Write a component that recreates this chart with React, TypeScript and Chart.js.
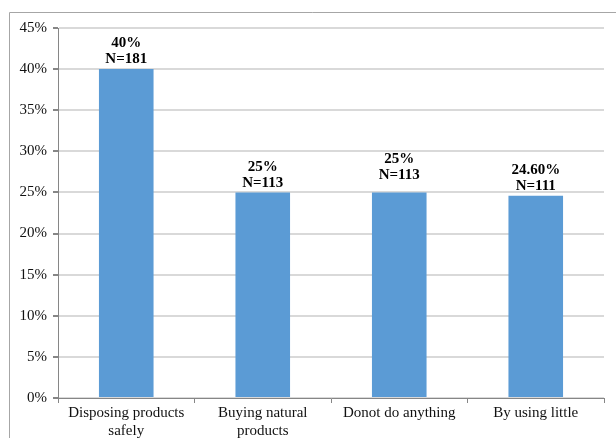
import React, { useEffect, useRef } from "react";
import { Chart, registerables } from "chart.js";

Chart.register(...registerables);

const categories: string[][] = [
  ["Disposing products", "safely"],
  ["Buying natural", "products"],
  ["Donot do anything"],
  ["By using little"],
];
const values: number[] = [40, 25, 25, 24.6];
const percentLabels: string[] = ["40%", "25%", "25%", "24.60%"];
const countLabels: string[] = ["N=181", "N=113", "N=113", "N=111"];
const yTicks: number[] = [0, 5, 10, 15, 20, 25, 30, 35, 40, 45];

const SERIF = "'Liberation Serif', 'Times New Roman', serif";

const labelPlugin = {
  id: "barLabels",
  afterDatasetsDraw(chart: any) {
    const ctx = chart.ctx;
    const meta = chart.getDatasetMeta(0);
    const lift = [0, 0, 8, 0];
    ctx.save();
    ctx.font = `bold 15px ${SERIF}`;
    ctx.fillStyle = "#000";
    ctx.textAlign = "center";
    ctx.textBaseline = "bottom";
    meta.data.forEach((bar: any, i: number) => {
      const x = bar.x;
      const y = bar.y - 2 - lift[i];
      ctx.fillText(countLabels[i], x, y);
      ctx.fillText(percentLabels[i], x, y - 16);
    });
    ctx.restore();
  },
};

const framePlugin = {
  id: "frame",
  beforeDraw(chart: any) {
    const ctx = chart.ctx;
    ctx.save();
    ctx.fillStyle = "#fff";
    ctx.fillRect(0, 0, chart.width, chart.height);
    ctx.strokeStyle = "#a6a6a6";
    ctx.lineWidth = 1;
    ctx.beginPath();
    ctx.moveTo(9.5, chart.height);
    ctx.lineTo(9.5, 12.5);
    ctx.lineTo(chart.width, 12.5);
    ctx.stroke();
    ctx.restore();
  },
};

export default function App() {
  const ref = useRef<HTMLCanvasElement | null>(null);
  useEffect(() => {
    if (!ref.current) return;
    const chart = new Chart(ref.current, {
      type: "bar",
      data: {
        labels: categories,
        datasets: [
          {
            data: values,
            backgroundColor: "#5B9BD5",
            borderWidth: 0,
            barPercentage: 0.4,
            categoryPercentage: 1,
          },
        ],
      },
      options: {
        animation: false,
        responsive: false,
        maintainAspectRatio: false,
        layout: { padding: { left: 0, top: 28, right: 12, bottom: 0 } },
        plugins: {
          legend: { display: false },
          tooltip: { enabled: false },
        },
        scales: {
          x: {
            grid: {
              display: true,
              drawOnChartArea: false,
              drawTicks: true,
              tickLength: 5,
              tickColor: "#868686",
              offset: true,
            },
            border: { display: true, color: "#868686", width: 1 },
            ticks: {
              color: "#111",
              font: { family: SERIF, size: 15 },
              padding: 1,
              maxRotation: 0,
              autoSkip: false,
            },
            afterFit(scale: any) {
              scale.height = 40;
            },
          },
          y: {
            min: 0,
            max: 45,
            afterBuildTicks(scale: any) {
              scale.ticks = yTicks.map((v) => ({ value: v }));
            },
            grid: {
              color: "#d9d9d9",
              lineWidth: 2,
              tickColor: "#868686",
              tickLength: 5,
            },
            border: { display: true, color: "#868686", width: 1 },
            ticks: {
              color: "#111",
              font: { family: SERIF, size: 15 },
              padding: 6,
              callback: (v: any) => `${v}%`,
            },
            afterFit(scale: any) {
              scale.width = 58;
            },
          },
        },
      },
      plugins: [framePlugin, labelPlugin],
    });
    return () => chart.destroy();
  }, []);
  return (
    <div style={{ position: "fixed", left: 0, top: 0, width: 616, height: 438 }}>
      <canvas ref={ref} width={616} height={438} style={{ display: "block" }} />
    </div>
  );
}
